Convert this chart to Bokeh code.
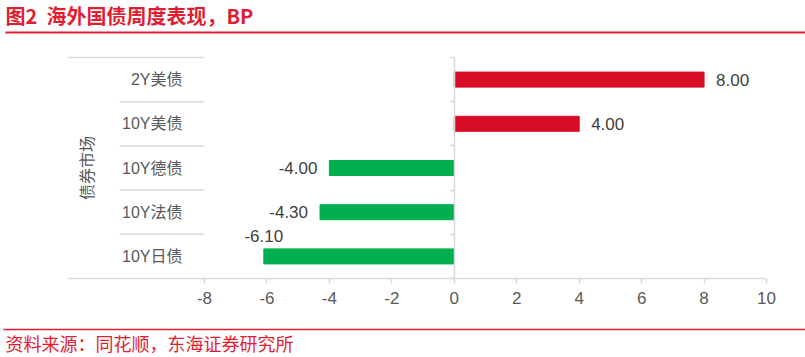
import math
from bokeh.plotting import figure
from bokeh.models import Range1d, FixedTicker, LinearAxis, ColumnDataSource
from bokeh.core.properties import value
from bokeh.embed import file_html
from bokeh.resources import INLINE

# ---------------- data ----------------
categories = ["2Y美债", "10Y美债", "10Y德债", "10Y法债", "10Y日债"]
values = [8.00, 4.00, -4.00, -4.30, -6.10]
x_ticks = [-8, -6, -4, -2, 0, 2, 4, 6, 8, 10]
group_label = "债券市场"
title_text = "图2\u00a0\u00a0海外国债周度表现，BP"
source_text = "资料来源：同花顺，东海证券研究所"

# ---------------- style / layout ----------------
W, H = 805, 357
FL, FT, FR, FB = 68, 57, 766, 278      # chart box edges (px)
PLOT_LEFT_PX = 204                      # where the value axis starts
X_MIN, X_MAX = -8, 10
RED = "#D80C24"
GREEN = "#00B050"
TITLE_RED = "#E01E32"
GRID = "#D9D9D9"
TXT = "#595959"
VAL_TXT = "#404040"
FONT = "Liberation Sans, Noto Sans CJK SC"
CJK = "Noto Sans CJK SC"
LABEL_ABOVE = {"10Y日债"}

n = len(categories)
ppu = (FR - PLOT_LEFT_PX) / (X_MAX - X_MIN)
band = (FB - FT) / n


def px_to_x(px):
    return X_MIN + (px - PLOT_LEFT_PX) / ppu


def px_to_y(py):
    return (n - 0.5) - (py - FT) / band


ypos = [n - 1 - i for i in range(n)]

p = figure(width=W, height=H, output_backend="svg", toolbar_location=None,
           x_range=Range1d(px_to_x(0), px_to_x(W)), y_range=Range1d(px_to_y(H), px_to_y(0)),
           x_axis_location=None, y_axis_location=None,
           min_border_left=0, min_border_right=0, min_border_top=0, min_border_bottom=0)
p.outline_line_color = None
p.xgrid.visible = False
p.ygrid.visible = False
p.background_fill_color = "white"
p.border_fill_color = "white"

# bottom value axis
xa = LinearAxis(fixed_location=-0.5, bounds=(px_to_x(FL), X_MAX), ticker=FixedTicker(ticks=x_ticks))
xa.major_label_overrides = {t: str(t) for t in x_ticks}
xa.axis_line_color = GRID
xa.axis_line_width = 1.5
xa.major_tick_line_color = GRID
xa.major_tick_line_width = 1.5
xa.major_tick_out = 5
xa.major_tick_in = 0
xa.minor_tick_line_color = None
xa.major_label_text_font = FONT
xa.major_label_text_font_size = "17px"
xa.major_label_text_color = TXT
xa.major_label_standoff = 8
p.add_layout(xa, "below")

# zero axis with category boundary ticks
za = LinearAxis(fixed_location=0, bounds=(-0.5, n - 0.5),
                ticker=FixedTicker(ticks=[k - 0.5 for k in range(n + 1)]))
za.major_label_overrides = {k - 0.5: "" for k in range(n + 1)}
za.axis_line_color = GRID
za.axis_line_width = 1.5
za.major_tick_line_color = GRID
za.major_tick_line_width = 1.5
za.major_tick_out = 4
za.major_tick_in = 0
za.minor_tick_line_color = None
za.major_label_text_font_size = "1px"
p.add_layout(za, "left")

# bars
colors = [RED if v >= 0 else GREEN for v in values]
src = ColumnDataSource(dict(y=ypos, v=values, c=colors, cat=categories))
p.hbar(y="y", left=0, right="v", height=0.34, fill_color="c", line_color="c", source=src)

# value labels
pos = dict(x=[], y=[], t=[])
neg = dict(x=[], y=[], t=[])
above = dict(x=[], y=[], t=[])
for c, v, y in zip(categories, values, ypos):
    d = above if c in LABEL_ABOVE else (pos if v >= 0 else neg)
    d["x"].append(v)
    d["y"].append(y)
    d["t"].append(f"{v:.2f}")
common = dict(text_font=value(FONT), text_font_size="17px", text_color=VAL_TXT,
              text_baseline="middle")
p.text(x="x", y="y", text="t", source=ColumnDataSource(pos), x_offset=12, text_align="left", **common)
p.text(x="x", y="y", text="t", source=ColumnDataSource(neg), x_offset=-12, text_align="right", **common)
p.text(x="x", y="y", text="t", source=ColumnDataSource(above), y_offset=-20, text_align="center", **common)

# category labels and separators
p.text(x=[X_MIN] * n, y=ypos, text=categories, x_offset=-22, text_align="right",
       text_baseline="middle", text_font=value(FONT), text_font_size="16px", text_color=TXT)
sep_y = [k + 0.5 for k in range(n - 1)]
p.segment(x0=[px_to_x(119)] * len(sep_y), x1=[X_MIN] * len(sep_y), y0=sep_y, y1=sep_y,
          line_color=GRID, line_width=1.5)
p.segment(x0=[px_to_x(FL)], x1=[X_MIN], y0=[n - 0.5], y1=[n - 0.5], line_color=GRID, line_width=1.5)

# group label
p.text(x=[px_to_x(85)], y=[(n - 1) / 2], text=[group_label], angle=math.pi / 2,
       text_align="center", text_baseline="middle", text_font=value(CJK),
       text_font_size="16px", text_color=TXT)

# title, rules, source
p.text(x=[px_to_x(5)], y=[px_to_y(15)], text=[title_text], text_align="left",
       text_baseline="middle", text_font=value(CJK), text_font_size="20px",
       text_font_style="bold", text_color=TITLE_RED)
p.segment(x0=[px_to_x(5)], x1=[px_to_x(W)], y0=[px_to_y(32)], y1=[px_to_y(32)],
          line_color=TITLE_RED, line_width=2)
p.segment(x0=[px_to_x(3)], x1=[px_to_x(W)], y0=[px_to_y(329)], y1=[px_to_y(329)],
          line_color=TITLE_RED, line_width=1.5)
p.text(x=[px_to_x(5)], y=[px_to_y(342)], text=[source_text], text_align="left",
       text_baseline="middle", text_font=value(CJK), text_font_size="18px",
       text_color=TITLE_RED)

open("out.html", "w").write(file_html(p, INLINE))
